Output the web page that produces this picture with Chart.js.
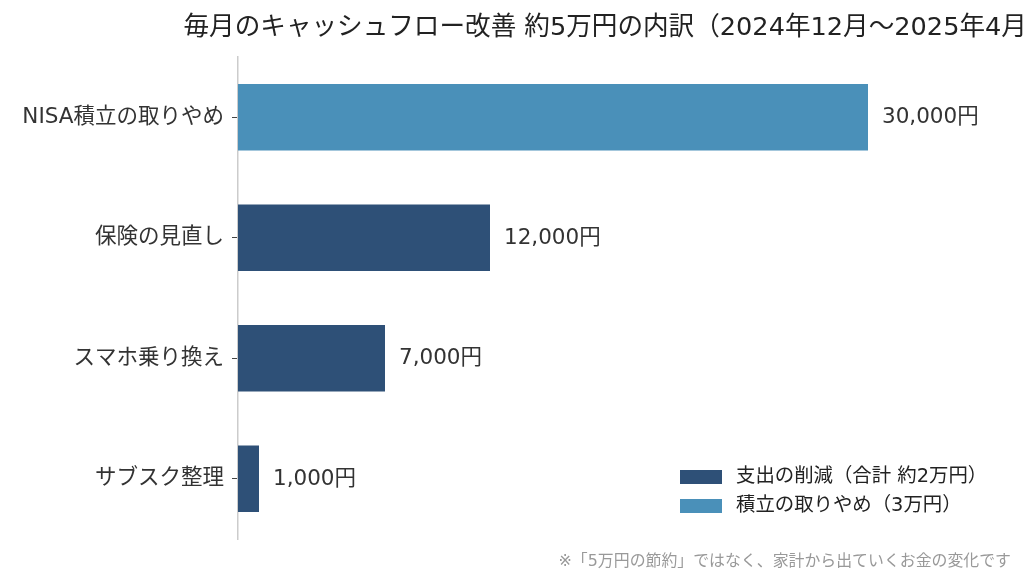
<!DOCTYPE html>
<html lang="ja">
<head>
<meta charset="utf-8">
<script src="https://cdn.jsdelivr.net/npm/chart.js@4/dist/chart.umd.min.js"></script>
<style>
  html, body { margin: 0; padding: 0; background: #ffffff; }
  #wrap { width: 1024px; height: 576px; position: relative; }
</style>
</head>
<body>
<div id="wrap"><canvas id="c" width="1024" height="576"></canvas></div>
<script>
const titleText = '毎月のキャッシュフロー改善 約5万円の内訳（2024年12月～2025年4月）';
const footnoteText = '※「5万円の節約」ではなく、家計から出ていくお金の変化です';
const categories = ['NISA積立の取りやめ', '保険の見直し', 'スマホ乗り換え', 'サブスク整理'];
const cutLabel = '支出の削減（合計 約2万円）';
const stopLabel = '積立の取りやめ（3万円）';
const cutValues = [null, 12000, 7000, 1000];
const stopValues = [30000, null, null, null];
const valueSuffix = '円';
const xMax = 36000;

const FONT = "'DejaVu Sans', 'Noto Sans CJK JP', sans-serif";
const DARK = '#2e5077';
const LIGHT = '#4a90b9';

const decorPlugin = {
  id: 'decor',
  afterDatasetsDraw(chart) {
    const ctx = chart.ctx;
    ctx.save();
    ctx.font = '21.5px ' + FONT;
    ctx.fillStyle = '#333333';
    ctx.textAlign = 'left';
    ctx.textBaseline = 'middle';
    chart.data.datasets.forEach((ds, di) => {
      const meta = chart.getDatasetMeta(di);
      ds.data.forEach((v, i) => {
        if (v === null || v === undefined) return;
        const el = meta.data[i];
        ctx.fillText(v.toLocaleString('en-US') + valueSuffix, el.x + 14, el.y + 0.5);
      });
    });
    ctx.restore();
  },
  afterDraw(chart) {
    const ctx = chart.ctx;
    const ca = chart.chartArea;
    ctx.save();
    // title centered over plot area
    ctx.font = '25.6px ' + FONT;
    ctx.fillStyle = '#222222';
    ctx.textAlign = 'center';
    ctx.textBaseline = 'middle';
    ctx.fillText(titleText, (ca.left + ca.right) / 2 + 2, 28);
    // legend (lower right, inside plot)
    ctx.font = '19.4px ' + FONT;
    ctx.textAlign = 'left';
    const items = chart.data.datasets;
    const lx = ca.right - 314;
    items.forEach((ds, i) => {
      const cy = ca.bottom - 62 + i * 29;
      ctx.fillStyle = ds.backgroundColor;
      ctx.fillRect(lx, cy - 7, 42, 14);
      ctx.fillStyle = '#222222';
      ctx.fillText(ds.label, lx + 56, cy);
    });
    // footnote
    ctx.font = '15.9px ' + FONT;
    ctx.fillStyle = '#999999';
    ctx.textAlign = 'right';
    ctx.fillText(footnoteText, chart.width - 13, 562);
    ctx.restore();
  }
};

new Chart(document.getElementById('c'), {
  type: 'bar',
  data: {
    labels: categories,
    datasets: [
      { label: cutLabel, data: cutValues, backgroundColor: DARK, borderWidth: 0,
        barPercentage: 0.55, categoryPercentage: 1.0 },
      { label: stopLabel, data: stopValues, backgroundColor: LIGHT, borderWidth: 0,
        barPercentage: 0.55, categoryPercentage: 1.0 }
    ]
  },
  options: {
    indexAxis: 'y',
    responsive: false,
    animation: false,
    devicePixelRatio: 1,
    layout: { padding: { left: 0, top: 57, right: 30, bottom: 37 } },
    plugins: {
      legend: { display: false },
      title: { display: false },
      tooltip: { enabled: false }
    },
    scales: {
      x: {
        stacked: true,
        display: false,
        min: 0,
        max: xMax
      },
      y: {
        stacked: true,
        afterFit(scale) { scale.width = 238; },
        grid: { display: true, drawOnChartArea: false, drawTicks: true, tickLength: 6,
                offset: false, color: '#444444', lineWidth: 1 },
        border: { display: true, color: '#cccccc', width: 1.5 },
        ticks: { color: '#333333', padding: 8, font: { family: FONT, size: 21.5 } }
      }
    }
  },
  plugins: [decorPlugin]
});
</script>
</body>
</html>
